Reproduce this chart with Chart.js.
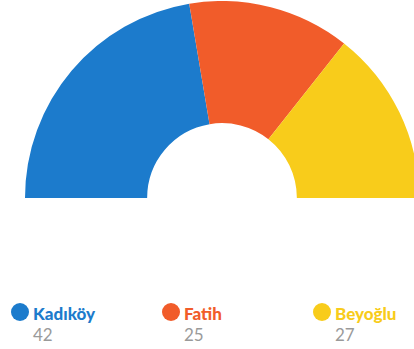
<!DOCTYPE html>
<html>
<head>
<meta charset="utf-8">
<script src="https://cdn.jsdelivr.net/npm/chart.js@4"></script>
<style>
    html, body {
        margin: 0;
        padding: 0;
        width: 414px;
        height: 349px;
        overflow: hidden;
        background: #fff;
        font-family: Lato, "Open Sans", sans-serif;
    }
    #chart-wrap {
        position: absolute;
        left: 25px;
        top: 1px;
        width: 394px;
        height: 197px;
    }
    .legend-item {
        position: absolute;
        top: 302px;
    }
    .legend-item .dot {
        position: absolute;
        left: 0;
        top: 1px;
        width: 18px;
        height: 18px;
        border-radius: 50%;
    }
    .legend-item .name {
        position: absolute;
        left: 22px;
        top: 2px;
        font-size: 17px;
        font-weight: 900;
        white-space: nowrap;
        line-height: 20px;
    }
    .legend-item .value {
        position: absolute;
        left: 22px;
        top: 23px;
        font-size: 17px;
        color: #9a9a9a;
        line-height: 20px;
    }
</style>
</head>
<body>
<div id="chart-wrap"><canvas id="districtChart"></canvas></div>
<div id="legend"></div>

<script>
const districts = ['Kadıköy', 'Fatih', 'Beyoğlu'];
const counts = [42, 25, 27];
const colors = ['#1c7bcc', '#f15c2a', '#f8cc1b'];
const legendLeft = [11, 162, 313];

const ctx = document.getElementById('districtChart').getContext('2d');

new Chart(ctx, {
    type: 'doughnut',
    data: {
        labels: districts,
        datasets: [{
            data: counts,
            backgroundColor: colors,
            borderWidth: 0
        }]
    },
    options: {
        responsive: true,
        maintainAspectRatio: false,
        animation: false,
        rotation: -90,
        circumference: 180,
        cutout: '38%',
        layout: { padding: 0 },
        plugins: {
            legend: { display: false },
            tooltip: { enabled: false }
        }
    }
});

// Legend under the half-donut: dot, district name, count
const legend = document.getElementById('legend');
districts.forEach((name, i) => {
    const item = document.createElement('div');
    item.className = 'legend-item';
    item.style.left = legendLeft[i] + 'px';
    item.innerHTML =
        '<span class="dot" style="background:' + colors[i] + '"></span>' +
        '<span class="name" style="color:' + colors[i] + '">' + name + '</span>' +
        '<span class="value">' + counts[i] + '</span>';
    legend.appendChild(item);
});
</script>
</body>
</html>
